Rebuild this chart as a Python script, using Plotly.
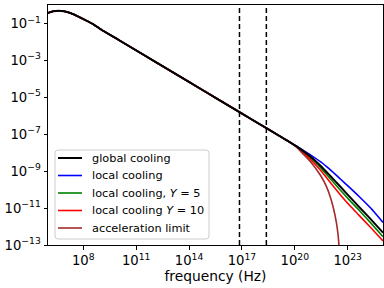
import plotly.graph_objects as go

# log10 of frequency (Hz) and log10 of the plotted quantity
log_nu_common = [6.0, 6.3, 6.6, 6.9, 7.3, 7.7, 8.1, 8.6, 9.0, 10.0, 11.0, 12.0, 13.0,
                 14.0, 15.0, 16.0, 17.0, 18.0, 19.0, 19.5, 19.8]
log_f_common = [-0.43, -0.34, -0.31, -0.34, -0.45, -0.62, -0.81, -1.06, -1.32, -1.89,
                -2.46, -3.03, -3.60, -4.17, -4.74, -5.31, -5.88, -6.45, -7.02, -7.31, -7.48]

log_nu_tail = [20.1, 20.4, 20.9, 21.47, 22.0, 22.6, 23.1, 23.63, 24.3, 25.0]
log_f_global = [-7.66, -7.86, -8.22, -8.72, -9.25, -9.86, -10.38, -10.92, -11.6, -12.33]
log_f_local = [-7.65, -7.83, -8.13, -8.5, -8.92, -9.44, -9.88, -10.36, -11.0, -11.78]
log_f_local_y5 = [-7.67, -7.89, -8.3, -8.82, -9.4, -10.05, -10.57, -11.1, -11.8, -12.55]
log_f_local_y10 = [-7.68, -7.93, -8.38, -8.97, -9.6, -10.3, -10.85, -11.38, -12.05, -12.78]

log_nu_acc = [20.1, 20.4, 20.9, 21.47, 21.8, 22.03, 22.2, 22.35, 22.44, 22.5, 22.52]
log_f_acc = [-7.7, -8.0, -8.5, -9.25, -9.85, -10.45, -11.05, -11.75, -12.35, -13.0, -13.6]

band_edges_hz = [7.25e16, 2.42e18]   # 0.3 keV and 10 keV

x_tick_exp = [8, 11, 14, 17, 20, 23]
y_tick_exp = [-1, -3, -5, -7, -9, -11, -13]

series = [
    ("global cooling", log_f_global, log_nu_tail, "black", 2.0),
    ("local cooling", log_f_local, log_nu_tail, "blue", 1.6),
    ("local cooling, <i>Y</i> = 5", log_f_local_y5, log_nu_tail, "green", 1.6),
    ("local cooling <i>Y</i> = 10", log_f_local_y10, log_nu_tail, "red", 1.6),
    ("acceleration limit", log_f_acc, log_nu_acc, "#a52a2a", 1.6),
]

fig = go.Figure()
# draw coloured ones first, black on top
for name, lf, lnu, color, w in series[1:] + series[:1]:
    xs = [10.0 ** v for v in log_nu_common + lnu]
    ys = [10.0 ** v for v in log_f_common + lf]
    fig.add_trace(go.Scatter(x=xs, y=ys, mode="lines", name=name, showlegend=False,
                             line=dict(color=color, width=w, shape="spline", smoothing=0.6)))

for e in band_edges_hz:
    fig.add_trace(go.Scatter(x=[e, e], y=[1e-13, 1.0], mode="lines", showlegend=False,
                             line=dict(color="black", width=1.5, dash="5px,3px")))

# legend box drawn by hand (matplotlib-like spacing)
x0, x1, y0, y1 = 0.0209, 0.4806, 0.025, 0.3958
rx, ry = 0.009, 0.0125
path = (f"M {x0+rx},{y1} L {x1-rx},{y1} Q {x1},{y1} {x1},{y1-ry} L {x1},{y0+ry} "
        f"Q {x1},{y0} {x1-rx},{y0} L {x0+rx},{y0} Q {x0},{y0} {x0},{y0+ry} "
        f"L {x0},{y1-ry} Q {x0},{y1} {x0+rx},{y1} Z")
shapes = [dict(type="path", xref="paper", yref="paper", path=path,
               fillcolor="white", line=dict(color="#cccccc", width=1), layer="above")]
annotations = []
for i, (name, lf, lnu, color, w) in enumerate(series):
    ypix = 158 + i * 17.5
    yp = (245 - ypix) / 240
    shapes.append(dict(type="line", xref="paper", yref="paper", x0=0.0299, x1=0.1015,
                       y0=yp, y1=yp, line=dict(color=color, width=w), layer="above"))
    annotations.append(dict(xref="paper", yref="paper", x=0.1254, y=yp, text=name,
                            showarrow=False, xanchor="left", yanchor="middle",
                            font=dict(size=11.3, color="black")))

font = "DejaVu Sans, sans-serif"
fig.update_xaxes(type="log", range=[6, 25],
                 tickvals=[10.0 ** e for e in x_tick_exp],
                 ticktext=[f"10<sup>{e}</sup>" for e in x_tick_exp],
                 ticks="outside", ticklen=3.5, tickcolor="black",
                 showline=True, mirror=True, linecolor="black", linewidth=1,
                 showgrid=False, zeroline=False,
                 title=dict(text="frequency (Hz)", font=dict(size=13.8, color="black"), standoff=3),
                 tickfont=dict(size=13.2, color="black"))
fig.update_yaxes(type="log", range=[-13, 0],
                 tickvals=[10.0 ** e for e in y_tick_exp],
                 ticktext=[f"10<sup>\u2212{abs(e)}</sup>" for e in y_tick_exp],
                 ticks="outside", ticklen=3.5, tickcolor="black",
                 showline=True, mirror=True, linecolor="black", linewidth=1,
                 showgrid=False, zeroline=False,
                 tickfont=dict(size=13.2, color="black"))
fig.update_layout(
    width=384, height=288,
    margin=dict(l=48, r=1, t=5, b=43),
    paper_bgcolor="white", plot_bgcolor="white",
    font=dict(family=font, color="black"),
    showlegend=False,
    shapes=shapes, annotations=annotations,
)
fig.write_html("out.html", config={"displayModeBar": False},
               post_script="document.body.style.margin='0';")
